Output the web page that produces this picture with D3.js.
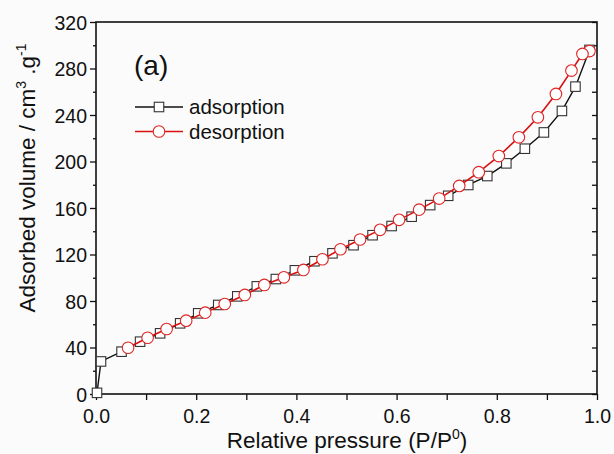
<!DOCTYPE html>
<html>
<head>
<meta charset="utf-8">
<script src="https://cdn.jsdelivr.net/npm/d3@7"></script>
<style>
  html, body { margin: 0; padding: 0; background: #fbfbfb; }
  svg { display: block; font-family: "Liberation Sans", Arial, sans-serif; }
</style>
</head>
<body>
<svg id="chart" width="614" height="454"></svg>
<script>
// adsorption branch (P/P0, volume)
const adsX = [0.002, 0.010, 0.051, 0.088, 0.128, 0.168, 0.204, 0.244, 0.282, 0.321, 0.359, 0.397, 0.436, 0.472,
  0.514, 0.552, 0.590, 0.630, 0.667, 0.703, 0.743, 0.781, 0.819, 0.856, 0.894, 0.930, 0.957, 0.985];
const adsY = [1, 28, 36.4, 45, 52.2, 60.8, 69.4, 76.6, 84.0, 92.6, 98.9, 106.4, 114.2, 121,
  128, 136.6, 144.5, 152.5, 162.5, 170.5, 179.8, 187.5, 198.4, 211, 225, 243.5, 264.4, 296];

// desorption branch
const desX = [0.985, 0.971, 0.949, 0.918, 0.882, 0.844, 0.804, 0.764, 0.725, 0.685, 0.645, 0.605, 0.567,
  0.527, 0.488, 0.452, 0.414, 0.375, 0.336, 0.297, 0.257, 0.218, 0.180, 0.141, 0.103, 0.064];
const desY = [295, 292.5, 278.2, 258.1, 238.0, 220.8, 204.7, 190.8, 179.0, 168.1, 158.6, 149.8, 141.2,
  132.9, 124.5, 115.9, 106.7, 100.4, 93.8, 85.2, 77.4, 70, 63.1, 55.9, 48.4, 39.8];

const xTicks = [0.0, 0.2, 0.4, 0.6, 0.8, 1.0];
const yTicks = [0, 40, 80, 120, 160, 200, 240, 280, 320];
const seriesNames = ['adsorption', 'desorption'];

const svg = d3.select('#chart');
const m = { left: 96, right: 597, top: 22, bottom: 394 };

const x = d3.scaleLinear().domain([0, 1]).range([m.left, m.right]);
const y = d3.scaleLinear().domain([0, 320]).range([m.bottom, m.top]);

const ads = adsX.map((v, i) => ({ x: v, y: adsY[i] }));
const des = desX.map((v, i) => ({ x: v, y: desY[i] }));

// axes
const bottom = svg.append('g').attr('transform', `translate(0,${m.bottom})`)
  .call(d3.axisBottom(x).tickValues(d3.range(0, 1.01, 0.1)).tickSize(6).tickFormat(''));
const bottomLabels = svg.append('g').attr('transform', `translate(0,${m.bottom})`)
  .call(d3.axisBottom(x).tickValues(xTicks).tickSize(0).tickPadding(29).tickFormat(d3.format('.1f')));

const leftMinor = svg.append('g').attr('transform', `translate(${m.left},0)`)
  .call(d3.axisLeft(y).tickValues(d3.range(20, 320, 40)).tickSize(3).tickFormat(''));
const left = svg.append('g').attr('transform', `translate(${m.left},0)`)
  .call(d3.axisLeft(y).tickValues(yTicks).tickSize(6).tickPadding(3));

const right = svg.append('g').attr('transform', `translate(${m.right},0)`)
  .call(d3.axisLeft(y).tickValues(d3.range(0, 321, 20)).tickSize(5).tickFormat(''));

[bottom, bottomLabels, leftMinor, left, right].forEach(g => {
  g.select('.domain').remove();
  g.selectAll('line').attr('stroke', '#111').attr('stroke-width', 1.3);
  g.selectAll('text').attr('fill', '#111').attr('font-size', 19.5).attr('font-family', '"Liberation Sans", Arial, sans-serif');
});
bottomLabels.selectAll('text').attr('dy', 0);
left.selectAll('text').attr('dy', '0.36em');

// frame
svg.append('rect')
  .attr('x', m.left).attr('y', m.top)
  .attr('width', m.right - m.left).attr('height', m.bottom - m.top)
  .attr('fill', 'none').attr('stroke', '#111').attr('stroke-width', 1.6);

// axis titles
svg.append('text')
  .attr('x', 347).attr('y', 448)
  .attr('text-anchor', 'middle').attr('font-size', 22.5).attr('fill', '#111')
  .html('Relative pressure (P/P<tspan dy="-9" font-size="14">0</tspan><tspan dy="9">)</tspan>');

svg.append('text')
  .attr('transform', 'translate(35,178) rotate(-90)')
  .attr('text-anchor', 'middle').attr('font-size', 22.5).attr('fill', '#111')
  .html('Adsorbed volume / cm<tspan dy="-9" font-size="14">3</tspan><tspan dy="9"> .g</tspan><tspan dy="-9" font-size="14">-1</tspan>');

// panel label
svg.append('text').attr('x', 134).attr('y', 75)
  .attr('font-size', 28).attr('fill', '#111').text('(a)');

const line = d3.line().x(d => x(d.x)).y(d => y(d.y));
const sq = 9.5;
const cr = 5.8;

// adsorption
svg.append('path').datum(ads).attr('d', line)
  .attr('fill', 'none').attr('stroke', '#111').attr('stroke-width', 1.4);
svg.append('g').selectAll('rect').data(ads).join('rect')
  .attr('x', d => x(d.x) - sq / 2).attr('y', d => y(d.y) - sq / 2)
  .attr('width', sq).attr('height', sq)
  .attr('fill', '#fff').attr('stroke', '#333').attr('stroke-width', 1.1);

// desorption
svg.append('path').datum(des).attr('d', line)
  .attr('fill', 'none').attr('stroke', '#d81010').attr('stroke-width', 1.6);
svg.append('g').selectAll('circle').data(des).join('circle')
  .attr('cx', d => x(d.x)).attr('cy', d => y(d.y)).attr('r', cr)
  .attr('fill', '#fff').attr('stroke', '#e02424').attr('stroke-width', 1.1);

// legend
const legend = svg.append('g');
seriesNames.forEach((name, i) => {
  const ly = 107 + i * 24.5;
  const col = i === 0 ? '#111' : '#d81010';
  legend.append('line').attr('x1', 135).attr('x2', 183).attr('y1', ly).attr('y2', ly)
    .attr('stroke', col).attr('stroke-width', i === 0 ? 1.4 : 1.6);
  if (i === 0) {
    legend.append('rect').attr('x', 159 - sq / 2).attr('y', ly - sq / 2).attr('width', sq).attr('height', sq)
      .attr('fill', '#fff').attr('stroke', '#333').attr('stroke-width', 1.1);
  } else {
    legend.append('circle').attr('cx', 159).attr('cy', ly).attr('r', cr)
      .attr('fill', '#fff').attr('stroke', '#e02424').attr('stroke-width', 1.1);
  }
  legend.append('text').attr('x', 189).attr('y', ly + 7)
    .attr('font-size', 20.5).attr('fill', '#111').text(name);
});
</script>
</body>
</html>
